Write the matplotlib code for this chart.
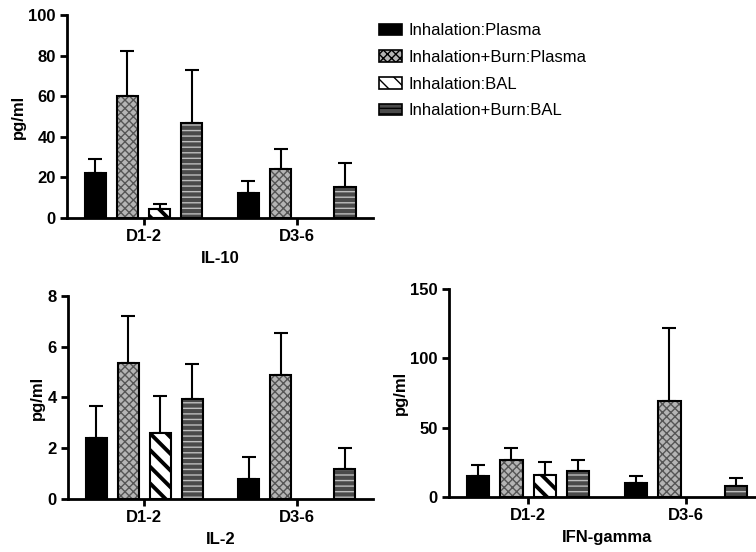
import numpy as np
import matplotlib.pyplot as plt
from matplotlib.patches import Patch

plt.rcParams['font.family'] = ['Liberation Sans', 'DejaVu Sans']
plt.rcParams['hatch.linewidth'] = 1.0

groups = ['D1-2', 'D3-6']
series = ['Inhalation:Plasma', 'Inhalation+Burn:Plasma', 'Inhalation:BAL', 'Inhalation+Burn:BAL']

# mean values and upper error bar end (mean + SEM), per series, per group
il10_mean = [[22, 12.5], [60, 24], [4.5, np.nan], [47, 15.5]]
il10_top = [[29, 18], [82, 34], [7, np.nan], [73, 27]]

il2_mean = [[2.4, 0.8], [5.35, 4.9], [2.6, np.nan], [3.95, 1.2]]
il2_top = [[3.65, 1.65], [7.2, 6.55], [4.05, np.nan], [5.3, 2.0]]

ifn_mean = [[15, 10], [27, 69], [16, np.nan], [19, 8]]
ifn_top = [[23, 15], [35, 122], [25, np.nan], [27, 14]]

# (facecolor, hatch, hatch colour, hatch width)
styles = [
    ('black', '', 'black', 1.0),
    ('#b4b4b4', 'xxxx', '#555555', 1.0),
    ('white', '\\\\', 'black', 2.8),
    ('#4a4a4a', '---', '#bdbdbd', 1.0),
]

offsets = [-0.315, -0.105, 0.105, 0.315]
bar_w = 0.14


def draw_panel(ax, means, tops, ymax, yticks, xlabel):
    x = np.arange(len(groups))
    for i, (fc, hatch, hc, hw) in enumerate(styles):
        m = np.array(means[i], dtype=float)
        t = np.array(tops[i], dtype=float)
        ok = ~np.isnan(m)
        xs = x[ok] + offsets[i]
        bars = ax.bar(xs, m[ok], bar_w, color=fc, hatch=hatch, edgecolor=hc, linewidth=0, zorder=2)
        for b in bars:
            if hasattr(b, 'set_hatch_linewidth'):
                b.set_hatch_linewidth(hw)
        ax.bar(xs, m[ok], bar_w, fill=False, edgecolor='black', linewidth=1.5, zorder=3)
        ax.errorbar(xs, m[ok], yerr=[np.zeros(ok.sum()), t[ok] - m[ok]], fmt='none',
                    ecolor='black', elinewidth=1.5, capsize=5, capthick=1.5, zorder=1)
    ax.set_xlim(-0.5, 1.5)
    ax.set_ylim(0, ymax)
    ax.set_yticks(yticks)
    ax.set_xticks(x)
    ax.set_xticklabels(groups, fontweight='bold', fontsize=12)
    for lab in ax.get_yticklabels():
        lab.set_fontweight('bold')
        lab.set_fontsize(12)
    ax.set_ylabel('pg/ml', fontweight='bold', fontsize=12, labelpad=2)
    ax.set_xlabel(xlabel, fontweight='bold', fontsize=12, labelpad=5)
    ax.spines['top'].set_visible(False)
    ax.spines['right'].set_visible(False)
    ax.spines['left'].set_linewidth(2)
    ax.spines['bottom'].set_linewidth(2)
    ax.tick_params(width=2, length=5, pad=3)


fig = plt.figure(figsize=(7.56, 5.52), dpi=100)
ax1 = fig.add_axes([0.0886, 0.605, 0.405, 0.368])
ax2 = fig.add_axes([0.09, 0.096, 0.403, 0.368])
ax3 = fig.add_axes([0.594, 0.0996, 0.418, 0.3768])

draw_panel(ax1, il10_mean, il10_top, 100, [0, 20, 40, 60, 80, 100], 'IL-10')
draw_panel(ax2, il2_mean, il2_top, 8, [0, 2, 4, 6, 8], 'IL-2')
draw_panel(ax3, ifn_mean, ifn_top, 150, [0, 50, 100, 150], 'IFN-gamma')

handles = []
for fc, h, hc, hw in styles:
    p = Patch(facecolor=fc, hatch=h, edgecolor='black', linewidth=1.2)
    if hasattr(p, 'set_hatch_linewidth'):
        p.set_hatch_linewidth(hw)
    handles.append(p)
leg = fig.legend(handles, series, loc='upper left', bbox_to_anchor=(0.482, 0.985), frameon=False,
                 fontsize=12, handlelength=1.35, handleheight=0.7, labelspacing=0.7, handletextpad=0.4)

fig.savefig('out.png', dpi=100)
